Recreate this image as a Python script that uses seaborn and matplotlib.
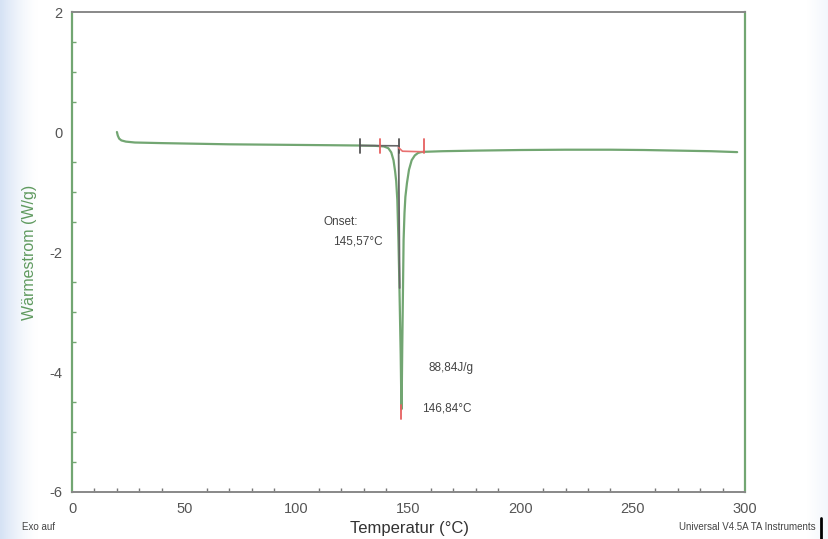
import numpy as np
import pandas as pd
import matplotlib
matplotlib.use("Agg")
import matplotlib.pyplot as plt
import seaborn as sns
from matplotlib.ticker import MultipleLocator

# ---- data ----
temperature = [20.0, 20.4, 21.0, 22.0, 24.0, 28.0, 40.0, 55.0, 70.0, 85.0, 100.0, 115.0,
               128.0, 135.0, 139.0, 141.0, 142.3, 143.3, 144.0, 144.5, 145.0, 145.5,
               145.9, 146.2, 146.5, 146.7, 146.84, 147.0, 147.2, 147.5, 147.8, 148.2,
               148.6, 149.3, 150.2, 151.4, 152.8, 154.2, 155.5, 157.0, 165.0, 180.0,
               200.0, 220.0, 240.0, 255.0, 270.0, 285.0, 296.5]
heatflow = [0.0, -0.06, -0.11, -0.14, -0.16, -0.175, -0.185, -0.195, -0.205, -0.21, -0.215,
            -0.22, -0.225, -0.23, -0.24, -0.27, -0.34, -0.47, -0.65, -0.82, -1.13, -1.8,
            -2.5, -3.1, -3.7, -4.25, -4.62, -4.3, -3.6, -2.7, -1.8, -1.35, -1.08, -0.85,
            -0.63, -0.47, -0.39, -0.35, -0.335, -0.33, -0.32, -0.31, -0.30, -0.295,
            -0.295, -0.30, -0.31, -0.32, -0.335]

tangent_T = [145.57, 146.05]
tangent_W = [-0.23, -2.6]
grey_base_T = [128.4, 145.57]
grey_base_W = [-0.225, -0.23]
grey_tick_T = [128.4, 145.57]
red_base_T = [145.57, 147.3, 157.0]
red_base_W = [-0.26, -0.32, -0.33]
red_tick_T = [137.3, 157.0]
tick_lo, tick_hi = -0.35, -0.12
peak_T = 146.84
peak_tick = [-4.55, -4.78]

enthalpy_label = "88,84J/g"
peak_label = "146,84°C"

x_ticks = [0, 50, 100, 150, 200, 250, 300]
y_ticks = [2, 0, -2, -4, -6]

df = pd.DataFrame({"T": temperature, "W": heatflow})

sns.set_theme(style="white")
plt.rcParams['font.family'] = ['Liberation Sans', 'DejaVu Sans']
plt.rcParams['axes.unicode_minus'] = False

fig = plt.figure(figsize=(8.29, 5.39), dpi=100)

# background: light blue gradient at edges
bg = fig.add_axes([0, 0, 1, 1], zorder=-10)
xs = np.linspace(0, 1, 400)
left = np.clip(1 - xs / 0.045, 0, 1) ** 1.5
right = np.clip((xs - 0.975) / 0.025, 0, 1) * 0.3
fade = np.maximum(left, right)
col_blue = np.array([0.84, 0.89, 0.96])
img = np.ones((2, 400, 3)) * (1 - fade[None, :, None]) + col_blue[None, None, :] * fade[None, :, None]
bg.imshow(img, aspect="auto", extent=[0, 1, 0, 1])
bg.axis("off")

ax = fig.add_axes([0.0869, 0.0872, 0.8118, 0.8905])
ax.set_facecolor("white")

green = "#72a672"
sns.lineplot(data=df, x="T", y="W", ax=ax, color=green, lw=1.6, sort=False, estimator=None)

ax.plot(tangent_T, tangent_W, color="#666666", lw=1.3)
ax.plot(grey_base_T, grey_base_W, color="#666666", lw=1.2)
for t in grey_tick_T:
    ax.plot([t, t], [tick_lo, tick_hi], color="#555555", lw=1.3)
ax.plot(red_base_T, red_base_W, color="#e87070", lw=1.2)
for t in red_tick_T:
    ax.plot([t, t], [tick_lo, tick_hi], color="#e66060", lw=1.3)
ax.plot([peak_T, peak_T], peak_tick, color="#e66060", lw=1.3)

txt = dict(fontsize=8.5, color="#444444", va="center", ha="left")
ax.text(111.9, -1.5, "Onset:", **txt)
ax.text(116.4, -1.82, "145,57°C", **txt)
ax.text(158.7, -3.93, enthalpy_label, **txt)
ax.text(156.0, -4.6, peak_label, **txt)

ax.set_xlim(0, 300)
ax.set_ylim(-6, 2)
ax.set_xticks(x_ticks)
ax.set_yticks(y_ticks)
ax.xaxis.set_minor_locator(MultipleLocator(10))
ax.yaxis.set_minor_locator(MultipleLocator(0.5))
ax.tick_params(axis="both", which="major", direction="out", length=5, width=1,
               labelsize=10.5, labelcolor="#555555", pad=2)
ax.tick_params(axis="x", which="major", colors="#777777", labelcolor="#555555")
ax.tick_params(axis="y", which="major", colors=green, labelcolor="#555555")
ax.tick_params(axis="x", which="minor", direction="in", length=3, width=1, colors="#777777", bottom=True)
ax.tick_params(axis="y", which="minor", direction="in", length=3, width=1, colors=green, left=True)

for s in ["left", "right"]:
    ax.spines[s].set_color(green)
    ax.spines[s].set_linewidth(1.6)
for s in ["top", "bottom"]:
    ax.spines[s].set_color("#888888")
    ax.spines[s].set_linewidth(1.4)

ax.set_xlabel("")
ax.set_ylabel("")
fig.text(410 / 829, 1 - 528 / 539, "Temperatur (°C)", fontsize=12, color="#333333",
         va="center", ha="center")
fig.text(30 / 829, 1 - 252 / 539, "Wärmestrom (W/g)", fontsize=11.5, color="#5f9a5f",
         va="center", ha="center", rotation=90)

fig.text(22 / 829, 1 - 527 / 539, "Exo auf", fontsize=7, color="#444444", va="center", ha="left")
fig.text(816 / 829, 1 - 527 / 539, "Universal V4.5A TA Instruments", fontsize=7, color="#444444",
         va="center", ha="right")
fig.add_artist(plt.Line2D([821 / 829, 821 / 829], [0, 1 - 518 / 539], color="black", lw=2))

fig.savefig("out.png", dpi=100)
